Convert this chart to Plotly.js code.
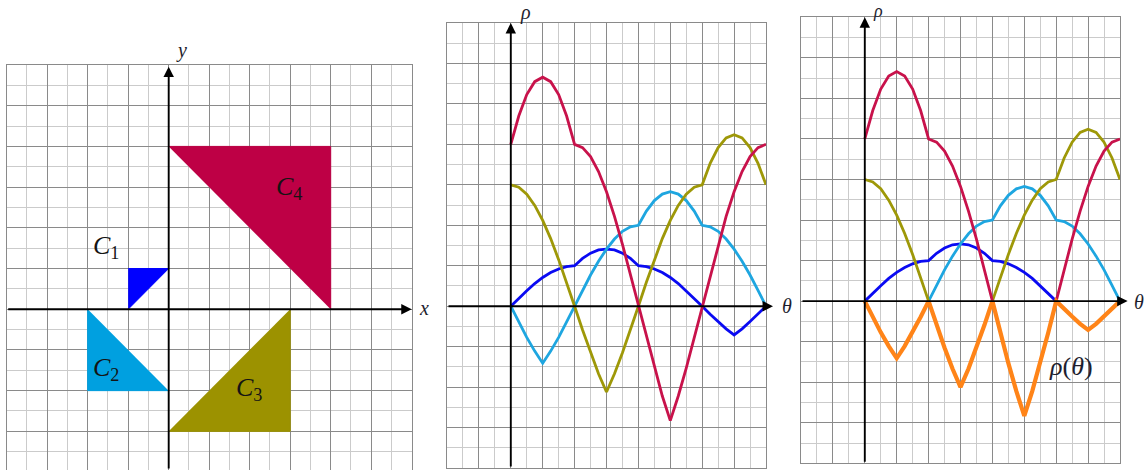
<!DOCTYPE html>
<html>
<head>
<meta charset="utf-8">
<script src="https://cdn.plot.ly/plotly-3.0.1.min.js"></script>
<style>
  html, body { margin: 0; padding: 0; background: #fff; }
  #chart { width: 1146px; height: 470px; }
</style>
</head>
<body>
<div id="chart"></div>
<script>
// ---- triangles C1..C4 (left panel) ----
const c1X = [-1, 0, -1];  const c1Y = [0, 1, 1];
const c2X = [-2, -2, 0];  const c2Y = [0, -2, -2];
const c3X = [0, 3, 3];    const c3Y = [-3, -3, 0];
const c4X = [0, 4, 4];    const c4Y = [4, 4, 0];

// ---- rho(theta) curves, theta in units of pi/4 ----
const theta = [0, 0.25, 0.5, 0.75, 1, 1.25, 1.5, 1.75, 2, 2.25, 2.5, 2.75, 3, 3.25, 3.5, 3.75,
               4, 4.25, 4.5, 4.75, 5, 5.25, 5.5, 5.75, 6, 6.25, 6.5, 6.75, 7, 7.25, 7.5, 7.75, 8];
const rhoC1 = [0, 0.2, 0.38, 0.56, 0.71, 0.83, 0.92, 0.98, 1, 1.18, 1.31, 1.39, 1.41, 1.39, 1.31, 1.18,
               1, 0.98, 0.92, 0.83, 0.71, 0.56, 0.38, 0.2, 0, -0.2, -0.38, -0.56, -0.71, -0.56, -0.38, -0.2, 0];
const rhoC2 = [0, -0.39, -0.77, -1.11, -1.41, -1.11, -0.77, -0.39, 0, 0.39, 0.77, 1.11, 1.41, 1.66, 1.85, 1.96,
               2, 2.35, 2.61, 2.77, 2.83, 2.77, 2.61, 2.35, 2, 1.96, 1.85, 1.66, 1.41, 1.11, 0.77, 0.39, 0];
const rhoC3 = [3, 2.94, 2.77, 2.49, 2.12, 1.67, 1.15, 0.59, 0, -0.59, -1.15, -1.67, -2.12, -1.67, -1.15, -0.59,
               0, 0.59, 1.15, 1.67, 2.12, 2.49, 2.77, 2.94, 3, 3.53, 3.92, 4.16, 4.24, 4.16, 3.92, 3.53, 3];
const rhoC4 = [4, 4.7, 5.23, 5.55, 5.66, 5.55, 5.23, 4.7, 4, 3.92, 3.7, 3.33, 2.83, 2.22, 1.53, 0.78,
               0, -0.78, -1.53, -2.22, -2.83, -2.22, -1.53, -0.78, 0, 0.78, 1.53, 2.22, 2.83, 3.33, 3.7, 3.92, 4];
const rhoMin = [0, -0.39, -0.77, -1.11, -1.41, -1.11, -0.77, -0.39, 0, -0.59, -1.15, -1.67, -2.12, -1.67, -1.15, -0.59,
                0, -0.78, -1.53, -2.22, -2.83, -2.22, -1.53, -0.78, 0, -0.2, -0.38, -0.56, -0.71, -0.56, -0.38, -0.2, 0];

const W = 1146, H = 470;
const FONT = 'Liberation Serif, DejaVu Serif, serif';

// panel boxes in pixels + ranges
const panels = [
  { px: [6.7, 411.7], py: [65, 470],     rx: [-4, 6], ry: [-3.95, 6] },
  { px: [447, 766],   py: [23, 468],     rx: [-2, 8], ry: [-4, 7] },
  { px: [801, 1120],  py: [17.3, 463.3], rx: [-2, 8], ry: [-4, 7] }
];

function toPx(p, x, y) {
  const P = panels[p];
  const sx = P.px[0] + (x - P.rx[0]) / (P.rx[1] - P.rx[0]) * (P.px[1] - P.px[0]);
  const sy = P.py[1] - (y - P.ry[0]) / (P.ry[1] - P.ry[0]) * (P.py[1] - P.py[0]);
  return [sx, sy];
}

function gridAxis(domain, range, anchor) {
  return {
    domain, range, anchor,
    tick0: 0, dtick: 1, showgrid: true, gridcolor: '#8a8a8a', gridwidth: 1,
    minor: { tick0: 0, dtick: 0.5, showgrid: true, gridcolor: '#cbcbcb', gridwidth: 1 },
    zeroline: false, showticklabels: false, ticks: '',
    showline: true, mirror: true, linecolor: '#8a8a8a', linewidth: 1,
    fixedrange: true
  };
}

function axisArrow(p, x0, y0, x1, y1) {
  const t = toPx(p, x0, y0), h = toPx(p, x1, y1);
  return {
    xref: 'paper', yref: 'paper', x: h[0] / W, y: 1 - h[1] / H,
    axref: 'pixel', ayref: 'pixel', ax: t[0] - h[0], ay: t[1] - h[1],
    text: '', showarrow: true, arrowhead: 2, arrowsize: 1.1, arrowwidth: 1.9, arrowcolor: '#000', standoff: 0
  };
}

function label(px, py, text, size) {
  return {
    xref: 'paper', yref: 'paper', x: px / W, y: 1 - py / H, text, showarrow: false,
    xanchor: 'center', yanchor: 'middle', font: { family: FONT, size: size || 20, color: '#1e1e2e' }
  };
}

function tri(xs, ys, color) {
  return { x: xs, y: ys, xaxis: 'x', yaxis: 'y', type: 'scatter', mode: 'lines', fill: 'toself',
           fillcolor: color, line: { color: color, width: 1 }, hoverinfo: 'skip' };
}

function curve(ys, color, ax, width) {
  return { x: theta, y: ys, xaxis: 'x' + ax, yaxis: 'y' + ax, type: 'scatter', mode: 'lines',
           line: { color: color, width: width || 2.8 }, connectgaps: false, hoverinfo: 'skip' };
}

const positive = arr => arr.map(v => (v >= 0 ? v : null));

const CRIMSON = '#c8124b', OLIVE = '#9e9808', CYAN = '#1ea6e0', BLUE = '#0a0af2', ORANGE = '#ff8418';

const traces = [
  tri(c4X, c4Y, '#be0045'),
  tri(c1X, c1Y, '#0000ff'),
  tri(c2X, c2Y, '#00a0e0'),
  tri(c3X, c3Y, '#9c9200'),

  curve(rhoC1, BLUE, 2), curve(rhoC2, CYAN, 2), curve(rhoC3, OLIVE, 2), curve(rhoC4, CRIMSON, 2),

  curve(positive(rhoC1), BLUE, 3), curve(positive(rhoC2), CYAN, 3),
  curve(positive(rhoC3), OLIVE, 3), curve(positive(rhoC4), CRIMSON, 3),
  curve(rhoMin, ORANGE, 3, 4.2)
];

const dom = p => ({
  x: [panels[p].px[0] / W, panels[p].px[1] / W],
  y: [1 - panels[p].py[1] / H, 1 - panels[p].py[0] / H]
});

const cLabel = (x, y, text) => ({
  xref: 'x', yref: 'y', x, y, text, showarrow: false,
  font: { family: FONT, size: 26, color: '#141414' }
});

const layout = {
  width: W, height: H,
  margin: { l: 0, r: 0, t: 0, b: 0 },
  showlegend: false,
  plot_bgcolor: '#fff', paper_bgcolor: '#fff',
  xaxis:  gridAxis(dom(0).x, panels[0].rx, 'y'),
  yaxis:  gridAxis(dom(0).y, panels[0].ry, 'x'),
  xaxis2: gridAxis(dom(1).x, panels[1].rx, 'y2'),
  yaxis2: gridAxis(dom(1).y, panels[1].ry, 'x2'),
  xaxis3: gridAxis(dom(2).x, panels[2].rx, 'y3'),
  yaxis3: gridAxis(dom(2).y, panels[2].ry, 'x3'),
  annotations: [
    axisArrow(0, -4, 0, 6, 0),
    axisArrow(0, 0, -3.95, 0, 5.96),
    axisArrow(1, -2, 0, 8.22, 0),
    axisArrow(1, 0, -4, 0, 7),
    axisArrow(2, -2, 0, 8.24, 0),
    axisArrow(2, 0, -4, 0, 7),

    label(424, 308, '<i>x</i>'),
    label(181, 51, '<i>y</i>'),
    label(525, 13, '<i>ρ</i>'),
    label(787, 306, '<i>θ</i>'),
    label(878, 11, '<i>ρ</i>', 18),
    label(1139, 302, '<i>θ</i>'),
    label(1071, 366, '<i>ρ</i>(<i>θ</i>)', 26),

    cLabel(-1.55, 1.52, '<i>C</i><sub>1</sub>'),
    cLabel(-1.55, -1.47, '<i>C</i><sub>2</sub>'),
    cLabel(1.98, -1.97, '<i>C</i><sub>3</sub>'),
    cLabel(2.96, 2.97, '<i>C</i><sub>4</sub>')
  ]
};

Plotly.newPlot('chart', traces, layout, { staticPlot: true, displayModeBar: false });
</script>
</body>
</html>
